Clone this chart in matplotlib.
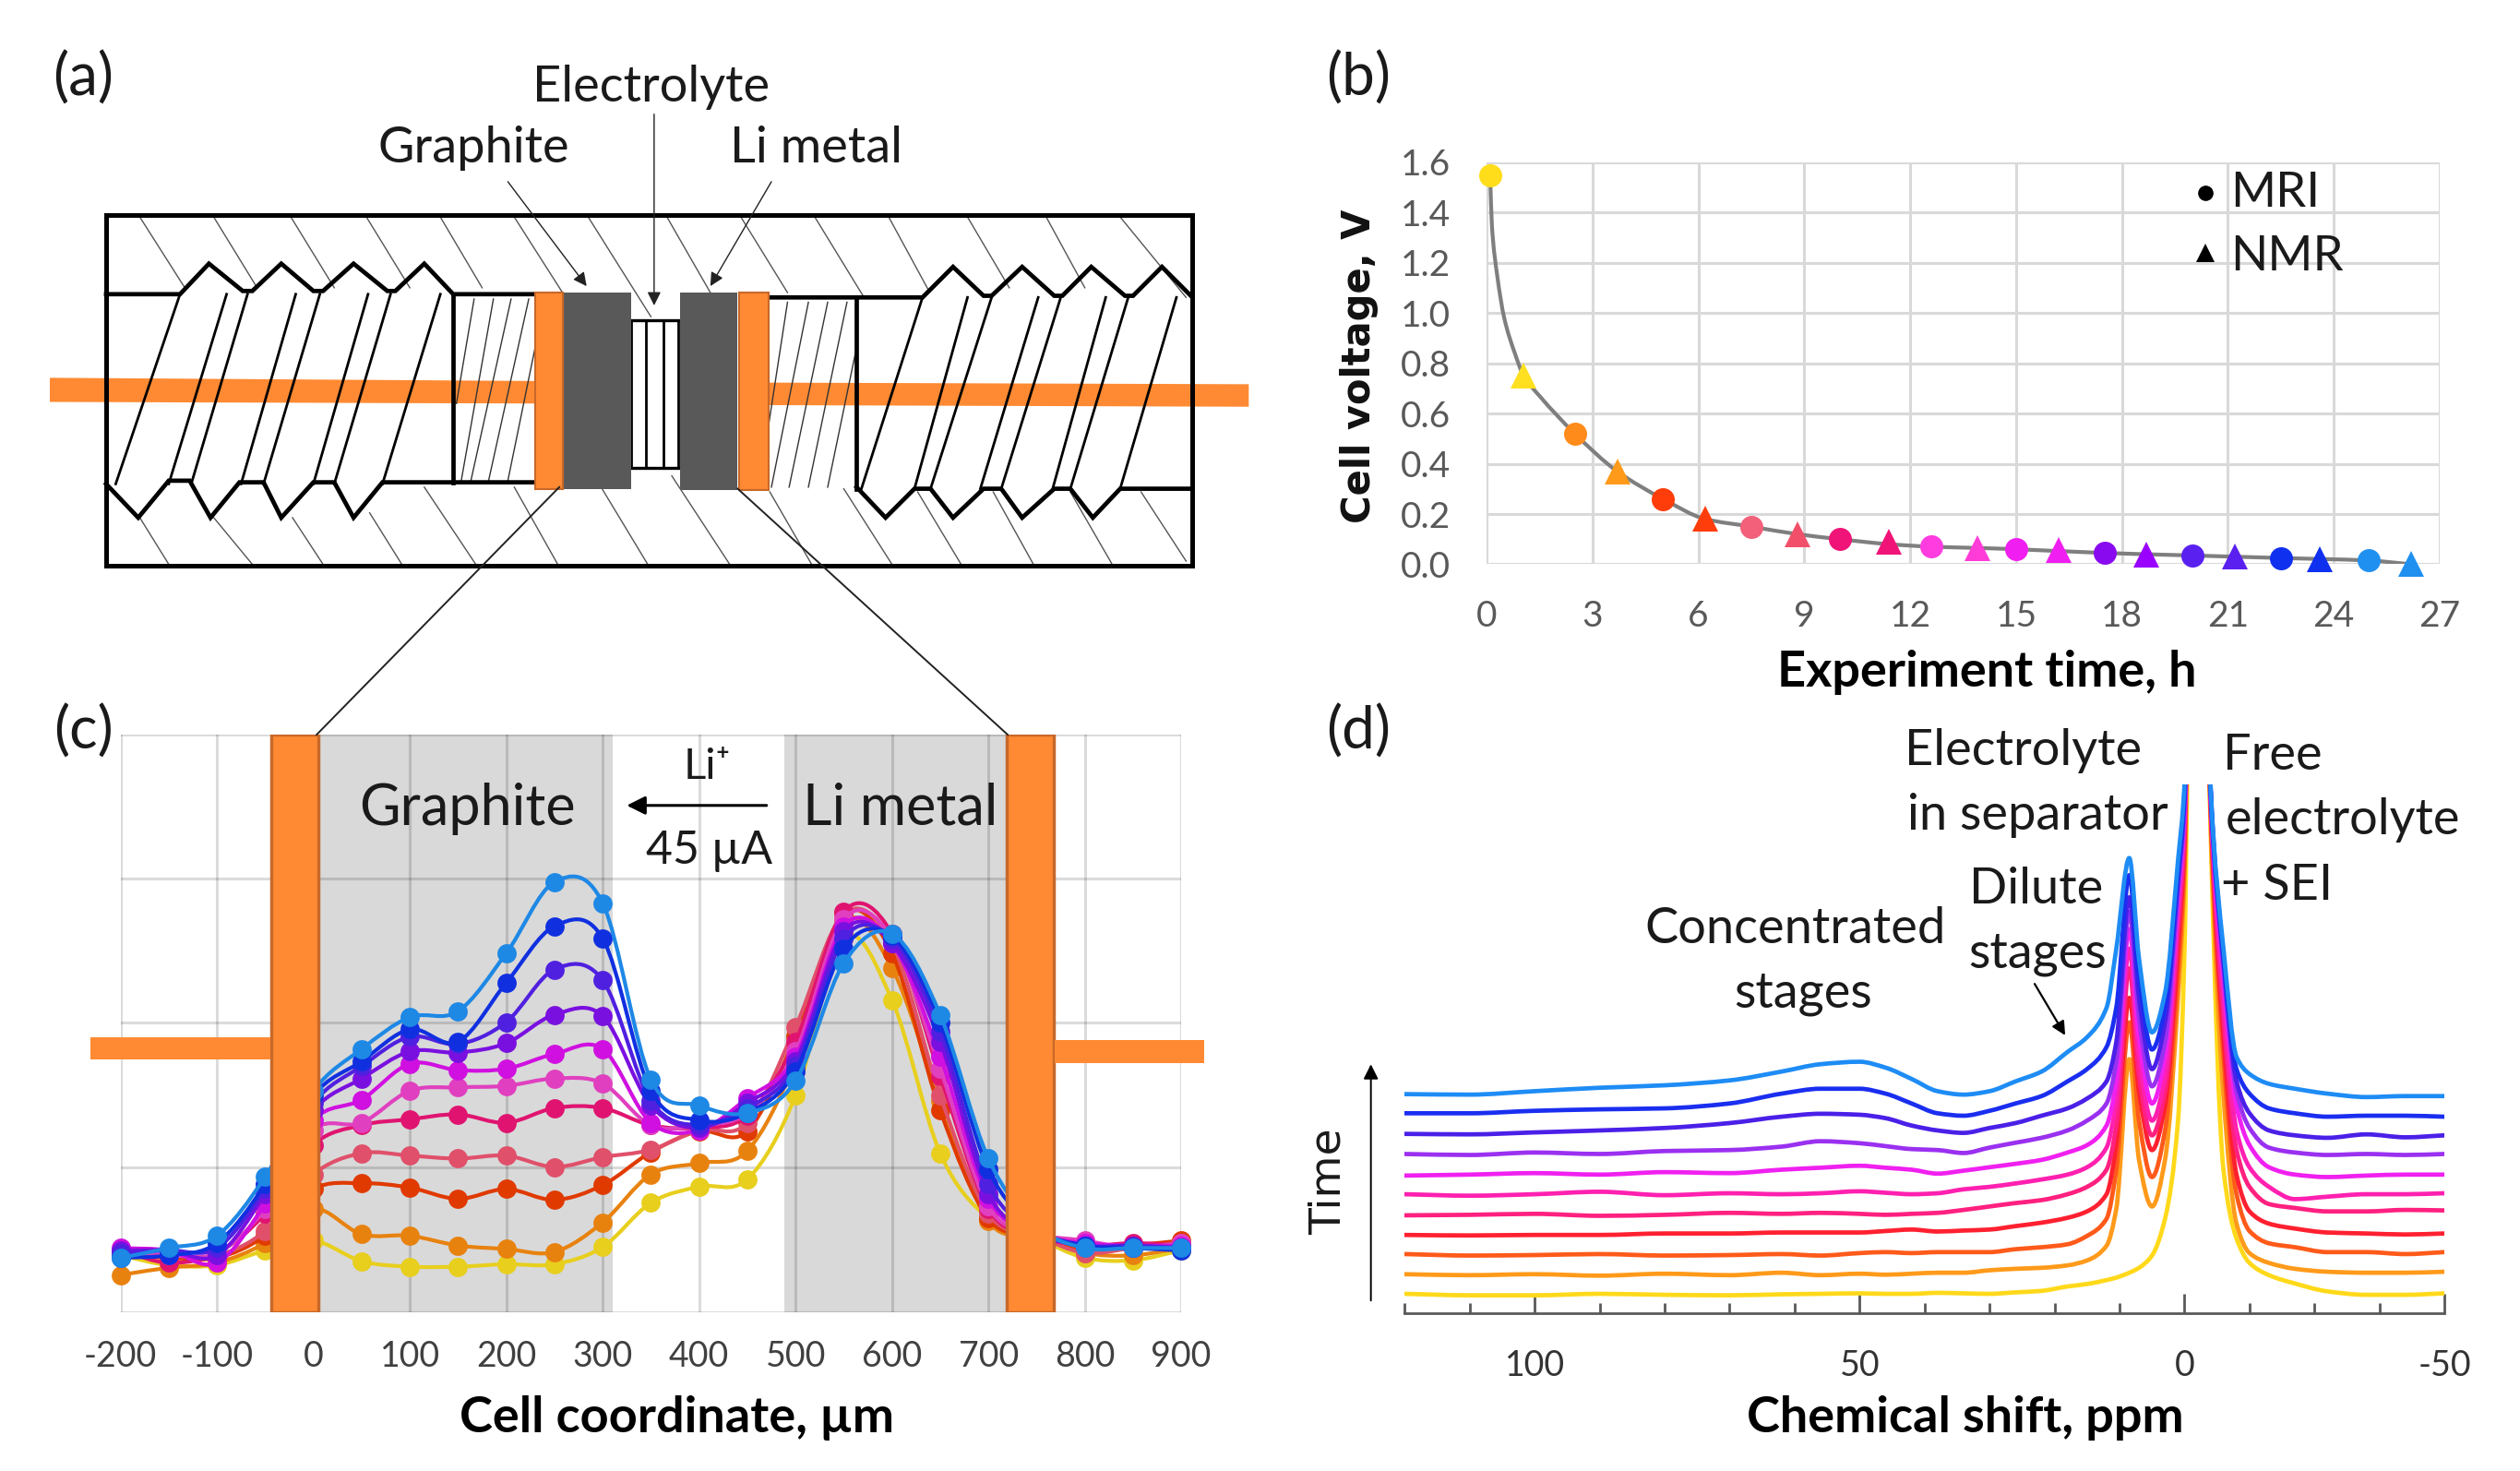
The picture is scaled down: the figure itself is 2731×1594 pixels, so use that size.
import numpy as np
import matplotlib
matplotlib.use("Agg")
import matplotlib.pyplot as plt
from matplotlib.path import Path
from matplotlib.patches import PathPatch, Rectangle, Polygon

plt.rcParams['font.family'] = ['Lato', 'DejaVu Sans']
plt.rcParams['axes.unicode_minus'] = False
W, H = 2731, 1594
SX, SY = 1568.0, 915.0
TXT = '#1a1a1a'
FS = 39

# ---------- panel (b) ----------
b_mri_t = [0.1, 2.5, 5.0, 7.5, 10.0, 12.6, 15.0, 17.5, 20.0, 22.5, 25.0]
b_mri_v = [1.55, 0.52, 0.26, 0.15, 0.10, 0.07, 0.06, 0.045, 0.035, 0.025, 0.015]
b_nmr_t = [1.05, 3.7, 6.2, 8.8, 11.4, 13.9, 16.2, 18.7, 21.2, 23.6, 26.2]
b_nmr_v = [0.75, 0.37, 0.18, 0.12, 0.09, 0.065, 0.055, 0.04, 0.03, 0.02, 0.0]
b_mri_c = ['#FFDD1A', '#FF8C1A', '#FF3D0A', '#F2607A', '#F01478', '#FF3CE0', '#F01EF0', '#8A0AF0', '#5A20F0', '#1030F0', '#2090F0']
b_nmr_c = ['#FFE020', '#FF9A1A', '#FF3D0A', '#F2506A', '#F01478', '#FF3CD8', '#F01EF0', '#9A00FF', '#5A20F0', '#1030F0', '#2090F0']
trace_t = [0.1, 0.15, 0.3, 0.5, 0.8, 1.05, 1.5, 2.5, 3.7, 5.0, 6.2, 7.5, 8.8, 10.0, 11.4, 12.6, 13.9, 15.0, 17.5, 20.0, 22.5, 25.0, 26.2]
trace_v = [1.55, 1.35, 1.15, 0.98, 0.84, 0.75, 0.67, 0.52, 0.37, 0.26, 0.18, 0.15, 0.12, 0.10, 0.08, 0.07, 0.065, 0.06, 0.045, 0.035, 0.025, 0.015, 0.0]
b_xticks = [0, 3, 6, 9, 12, 15, 18, 21, 24, 27]
b_yticks = [0.0, 0.2, 0.4, 0.6, 0.8, 1.0, 1.2, 1.4, 1.6]

# ---------- panel (c) ----------
c_x = [-200, -150, -100, -50, 0, 50, 100, 150, 200, 250, 300, 350, 400, 450, 500, 550, 600, 650, 700, 750, 800, 850, 900]
c_yellow = [1125, 1145, 1145, 1115, 1095, 1137, 1148, 1148, 1143, 1143, 1108, 1018, 985, 970, 800, 480, 605, 917, 1050, 1090, 1130, 1135, 1115]
c_orange = [1165, 1150, 1140, 1100, 1030, 1082, 1085, 1105, 1112, 1118, 1058, 960, 937, 912, 730, 445, 540, 810, 1055, 1085, 1120, 1125, 1110]
c_redorange = [1125, 1130, 1130, 1085, 990, 978, 987, 1010, 990, 1012, 982, 915, 872, 872, 680, 430, 510, 830, 1050, 1085, 1115, 1105, 1095]
c_salmon = [1120, 1125, 1125, 1075, 960, 917, 922, 928, 922, 945, 925, 910, 870, 855, 660, 430, 490, 800, 1040, 1085, 1120, 1110, 1100]
c_pinkred = [1115, 1140, 1120, 1040, 900, 860, 848, 838, 855, 825, 825, 860, 865, 840, 690, 425, 470, 760, 1030, 1085, 1105, 1100, 1105]
c_pink = [1120, 1125, 1120, 1030, 870, 855, 790, 783, 780, 765, 775, 860, 860, 835, 710, 440, 480, 745, 1025, 1080, 1095, 1110, 1100]
c_magenta = [1110, 1115, 1140, 1020, 850, 808, 735, 748, 745, 715, 705, 855, 870, 805, 720, 455, 490, 720, 1010, 1080, 1100, 1105, 1105]
c_purple = [1115, 1115, 1125, 1000, 830, 765, 710, 712, 693, 635, 638, 820, 865, 815, 730, 465, 490, 690, 1000, 1080, 1105, 1110, 1110]
c_indigo = [1120, 1115, 1110, 990, 815, 740, 680, 695, 650, 543, 565, 810, 860, 825, 740, 480, 480, 670, 980, 1075, 1105, 1105, 1110]
c_blue = [1130, 1125, 1100, 980, 800, 730, 665, 690, 570, 455, 480, 790, 850, 835, 750, 500, 475, 650, 950, 1070, 1105, 1110, 1115]
c_ltblue = [1130, 1110, 1085, 965, 790, 705, 640, 628, 510, 365, 408, 767, 820, 835, 770, 530, 470, 635, 928, 1065, 1110, 1110, 1110]
c_series = [c_yellow, c_orange, c_redorange, c_salmon, c_pinkred, c_pink, c_magenta, c_purple, c_indigo, c_blue, c_ltblue]
c_colors = ['#E8CF1E', '#E8820F', '#E03A00', '#E0506A', '#E01470', '#E040C0', '#D010E0', '#7A10E0', '#5020E0', '#1030E0', '#1E88E5']
c_xticks = list(range(-200, 1000, 100))
c_ygrid = [65, 358, 650, 945, 1240]

# ---------- panel (d) ----------
d_x = [120, 110, 100, 90, 80, 70, 62, 56, 50, 46, 42, 38, 34, 30, 26, 22, 18, 15, 12, 10.5, 8.5, 7, 5, 3, 1, 0, -2, -4, -6, -8, -10, -13, -17, -22, -28, -34, -40]
d_s1 = [1203, 1206, 1206, 1203, 1205, 1206, 1204, 1203, 1202, 1203, 1203, 1201, 1202, 1203, 1200, 1197, 1188, 1183, 1175, 1170, 1160, 1150, 1125, 1050, 850, 500, -1500, 250, 950, 1090, 1140, 1165, 1182, 1198, 1205, 1205, 1202]
d_s2 = [1163, 1165, 1163, 1166, 1162, 1165, 1160, 1165, 1162, 1164, 1162, 1160, 1160, 1155, 1152, 1150, 1145, 1135, 1105, 1030, 725, 930, 1025, 930, 600, 350, -1500, 230, 800, 1060, 1120, 1140, 1152, 1158, 1160, 1160, 1158]
d_s3 = [1122, 1125, 1124, 1122, 1125, 1124, 1122, 1125, 1120, 1118, 1120, 1118, 1118, 1118, 1112, 1108, 1102, 1085, 1050, 950, 650, 850, 965, 870, 550, 320, -1500, 210, 720, 1000, 1075, 1100, 1108, 1118, 1118, 1122, 1118]
d_s4 = [1083, 1084, 1083, 1083, 1080, 1080, 1078, 1078, 1078, 1075, 1072, 1076, 1074, 1072, 1065, 1058, 1048, 1035, 1000, 900, 600, 790, 910, 820, 500, 280, -1500, 200, 680, 960, 1035, 1060, 1070, 1078, 1080, 1082, 1080]
d_s5 = [1043, 1042, 1040, 1044, 1042, 1038, 1040, 1038, 1040, 1042, 1040, 1038, 1032, 1025, 1018, 1012, 1000, 985, 950, 860, 540, 760, 880, 790, 460, 260, -1500, 190, 640, 910, 985, 1020, 1028, 1035, 1035, 1032, 1033]
d_s6 = [1000, 1003, 1000, 995, 1002, 998, 1000, 998, 994, 997, 1000, 998, 990, 985, 978, 970, 960, 945, 905, 810, 500, 720, 850, 760, 430, 240, -1500, 185, 600, 870, 945, 985, 1010, 1005, 1000, 1000, 998]
d_s7 = [962, 960, 957, 960, 955, 957, 950, 946, 942, 946, 950, 958, 952, 945, 938, 930, 915, 900, 860, 770, 460, 680, 815, 720, 400, 225, -1500, 180, 560, 820, 900, 945, 960, 965, 962, 960, 960]
d_s8 = [918, 920, 915, 918, 912, 910, 903, 892, 896, 902, 908, 910, 916, 905, 895, 885, 870, 850, 815, 730, 425, 640, 780, 690, 380, 210, -1500, 175, 540, 790, 865, 905, 915, 920, 918, 920, 918]
d_s9 = [877, 878, 874, 870, 865, 855, 842, 836, 838, 845, 860, 870, 875, 865, 855, 840, 825, 805, 770, 690, 395, 600, 745, 650, 360, 195, -1500, 172, 525, 770, 835, 870, 880, 885, 878, 884, 880]
d_s10 = [835, 835, 830, 827, 825, 815, 795, 785, 785, 795, 815, 835, 840, 830, 815, 800, 770, 745, 700, 620, 350, 560, 705, 620, 340, 180, -1500, 168, 515, 745, 795, 825, 835, 842, 840, 840, 842]
d_s11 = [796, 797, 790, 783, 778, 768, 750, 735, 730, 742, 765, 790, 797, 790, 770, 750, 710, 680, 620, 500, 315, 520, 670, 590, 320, 165, -1500, 165, 500, 720, 755, 775, 785, 795, 802, 800, 800]
d_series = [d_s1, d_s2, d_s3, d_s4, d_s5, d_s6, d_s7, d_s8, d_s9, d_s10, d_s11]
d_colors = ['#FFD91A', '#FF9A1A', '#FF5A1A', '#FF2030', '#FF2080', '#FF20B0', '#F020F0', '#9A30F0', '#4A20E8', '#1A2EF0', '#1E8CF5']
d_major = [100, 50, 0, -40]
d_major_labels = ['100', '50', '0', '-50']
d_minor = list(range(120, -50, -10))


def rect(l, t, r, b):
    return [l / SX, 1 - b / SY, (r - l) / SX, (b - t) / SY]


def bezier(x, y, m):
    verts = [(x[0], y[0])]
    codes = [Path.MOVETO]
    for i in range(len(x) - 1):
        dx = x[i + 1] - x[i]
        verts += [(x[i] + dx / 3, y[i] + m[i] * dx / 3), (x[i + 1] - dx / 3, y[i + 1] - m[i + 1] * dx / 3), (x[i + 1], y[i + 1])]
        codes += [Path.CURVE4] * 3
    return Path(verts, codes)


def spline_path(x, y):
    x = np.asarray(x, float)
    y = np.asarray(y, float)
    m = np.gradient(y, x)
    return bezier(x, y, m)


def monotone_path(x, y):
    x = np.asarray(x, float)
    y = np.asarray(y, float)
    h = np.diff(x)
    d = np.diff(y) / h
    m = np.zeros_like(y)
    m[0], m[-1] = d[0], d[-1]
    for i in range(1, len(x) - 1):
        if d[i - 1] * d[i] > 0:
            w1 = 2 * h[i] + h[i - 1]
            w2 = h[i] + 2 * h[i - 1]
            m[i] = (w1 + w2) / (w1 / d[i - 1] + w2 / d[i])
    return bezier(x, y, m)


def curve(ax, path, color, lw, z):
    ax.add_patch(PathPatch(path, fill=False, edgecolor=color, lw=lw, zorder=z, capstyle='round'))


fig = plt.figure(figsize=(W / 100, H / 100), dpi=100, facecolor='white')

# ---------- background sketch (a), display units ----------
bg = fig.add_axes([0, 0, 1, 1], zorder=0)
bg.set_xlim(0, SX)
bg.set_ylim(SY, 0)
bg.axis('off')
ORANGE = '#FF8A33'
EDGE = '#C8682A'

rod_left = [(31, 235), (333, 237), (333, 251), (31, 250)]
rod_right = [(478, 238), (777, 239), (777, 253), (478, 252)]
for pts in (rod_left, rod_right):
    bg.add_patch(Polygon(pts, closed=True, fc=ORANGE, ec='none', zorder=1))

# thin hatching of the cell body
hatch_top = [(87, 134, 115, 178), (133, 134, 160, 178), (181, 134, 208, 178), (228, 134, 255, 178),
             (274, 134, 300, 178), (320, 134, 350, 181), (366, 134, 405, 196), (415, 134, 442, 181),
             (461, 134, 490, 181), (507, 134, 537, 183), (553, 134, 578, 180), (602, 134, 628, 178),
             (651, 134, 675, 178), (697, 134, 738, 184)]
hatch_bot = [(87, 321, 105, 350), (133, 321, 157, 350), (182, 321, 201, 350), (230, 318, 250, 350),
             (264, 302, 296, 350), (320, 302, 347, 350), (374, 302, 403, 350), (418, 295, 454, 350),
             (479, 305, 505, 350), (525, 303, 555, 350), (571, 305, 598, 350), (618, 305, 643, 350),
             (666, 305, 692, 350), (710, 305, 738, 348)]
for x0, y0, x1, y1 in hatch_top + hatch_bot:
    bg.plot([x0, x1], [y0 + 1, y1 + 1], color='#555555', lw=1.0, zorder=2)

# thread slants
left_tops = [112, 141, 154, 184, 199, 229, 243, 274]
left_bots = [72, 105, 119, 150, 164, 195, 208, 238]
right_tops = [574, 602, 617, 646, 660, 688, 702, 732]
right_bots = [536, 569, 579, 610, 623, 655, 666, 697]
for tops, bots, yt, yb in ((left_tops, left_bots, 183, 301), (right_tops, right_bots, 185, 304)):
    for a, c in zip(tops, bots):
        bg.plot([a, c], [yt, yb], color='black', lw=2.0, zorder=3)

# inner hatch
inner = [(295, 186, 284, 251), (307, 186, 287, 299), (318, 186, 293, 299), (329, 186, 304, 299), (333, 216, 316, 299),
         (490, 188, 478, 266), (503, 188, 480, 303), (515, 188, 491, 303), (527, 188, 503, 303), (533, 216, 515, 303)]
for x0, y0, x1, y1 in inner:
    bg.plot([x0, x1], [y0, y1], color='#333333', lw=1.0, zorder=2)

top_left = [(66, 183), (112, 183), (130, 164), (151, 181), (157, 181), (175, 164), (195, 181), (201, 181), (220, 164),
            (241, 181), (246, 181), (264, 164), (282, 183), (333, 183)]
bot_left = [(66, 301), (86, 322), (105, 299), (118, 299), (131, 322), (149, 300), (164, 300), (175, 322), (195, 300),
            (208, 300), (220, 322), (238, 300), (333, 300)]
top_right = [(478, 185), (574, 185), (593, 166), (612, 184), (617, 184), (636, 166), (656, 184), (661, 184), (679, 166),
             (700, 184), (705, 184), (723, 166), (741, 184)]
bot_right = [(533, 303), (551, 322), (569, 304), (579, 304), (593, 322), (612, 304), (623, 304), (636, 322), (656, 304),
             (666, 304), (680, 322), (697, 304), (741, 304)]
for pts in (top_left, bot_left, top_right, bot_right):
    xs, ys = zip(*pts)
    bg.plot(xs, ys, color='black', lw=3.4, zorder=4, solid_joinstyle='miter')
bg.plot([282, 282], [183, 300], color='black', lw=3.4, zorder=4)
bg.plot([533, 533], [185, 304], color='black', lw=3.4, zorder=4)
bg.add_patch(Rectangle((66, 134), 676, 218, fc='none', ec='black', lw=3.6, zorder=4))

# separator + electrodes
bg.plot([393, 422], [199, 199], color='black', lw=2.4, zorder=4)
bg.plot([393, 422], [291, 291], color='black', lw=2.4, zorder=4)
for xv in (393, 402, 413, 422):
    bg.plot([xv, xv], [199, 291], color='black', lw=2.0, zorder=4)
bg.add_patch(Rectangle((350, 182), 43, 122, fc='#595959', ec='none', zorder=5))
bg.add_patch(Rectangle((423, 182), 36, 123, fc='#595959', ec='none', zorder=5))
bg.add_patch(Rectangle((333, 182), 17, 122, fc=ORANGE, ec=EDGE, lw=1.5, zorder=5))
bg.add_patch(Rectangle((460, 182), 18, 123, fc=ORANGE, ec=EDGE, lw=1.5, zorder=5))

# ---------- panel (b) ----------
ab = fig.add_axes(rect(925, 101, 1518, 351), zorder=5)
ab.patch.set_alpha(0)
ab.set_xlim(0, 27)
ab.set_ylim(0, 1.6)
ab.set_xticks(b_xticks)
ab.set_yticks(b_yticks)
ab.set_yticklabels([f'{v:.1f}' for v in b_yticks])
ab.grid(True, color='#D9D9D9', lw=2.2, zorder=0)
ab.set_axisbelow(True)
for s in ab.spines.values():
    s.set_visible(False)
ab.tick_params(axis='x', length=0, labelsize=28, colors='#595959', pad=28)
ab.tick_params(axis='y', length=0, labelsize=28, colors='#595959', pad=28)
curve(ab, monotone_path(trace_t, trace_v), '#7F7F7F', 3.0, 3)
for t, v, c in zip(b_mri_t, b_mri_v, b_mri_c):
    ab.plot([t], [v], 'o', color=c, ms=18, mew=0, zorder=4, clip_on=False)
for t, v, c in zip(b_nmr_t, b_nmr_v, b_nmr_c):
    ab.plot([t], [v], '^', color=c, ms=20, mew=0, zorder=4, clip_on=False)

# ---------- panel (c) ----------
ac = fig.add_axes(rect(75, 457, 735, 816), zorder=5)
ac.set_xlim(-200, 900)
ac.set_ylim(1240, 65)
ac.axvspan(5, 310, color='#D9D9D9', lw=0, zorder=1)
ac.axvspan(488, 719, color='#D9D9D9', lw=0, zorder=1)
ac.set_xticks(c_xticks)
ac.set_yticks(c_ygrid)
ac.set_yticklabels([])
ac.grid(True, color='black', alpha=0.14, lw=2.2, zorder=2)
ac.set_axisbelow(False)
for gl in ac.get_xgridlines() + ac.get_ygridlines():
    gl.set_zorder(2)
ac.add_patch(Rectangle((310, 65), 178, 290, fc='white', ec='none', zorder=2.5))
for s in ac.spines.values():
    s.set_visible(False)
ac.tick_params(length=0, labelsize=27, colors='#404040', pad=22)
for ys, c in zip(c_series, c_colors):
    curve(ac, spline_path(c_x, ys), c, 3.0, 3)
    ac.plot(c_x, ys, 'o', color=c, ms=15, mew=0, zorder=3, clip_on=False)
ac.add_patch(Rectangle((-44, 65), 49, 1175, fc=ORANGE, ec=EDGE, lw=2.5, zorder=6))
ac.add_patch(Rectangle((719, 65), 49, 1175, fc=ORANGE, ec=EDGE, lw=2.5, zorder=6))

# ---------- panel (d) ----------
ad = fig.add_axes(rect(874, 488, 1521, 817), zorder=5)
ad.patch.set_alpha(0)
ad.set_xlim(120, -40)
ad.set_ylim(1243, 165)
for name in ('top', 'left', 'right'):
    ad.spines[name].set_visible(False)
ad.spines['bottom'].set_color('#595959')
ad.spines['bottom'].set_linewidth(2)
ad.set_yticks([])
ad.set_xticks(d_major)
ad.set_xticklabels(d_major_labels)
ad.set_xticks(d_minor, minor=True)
ad.tick_params(axis='x', which='major', direction='in', length=15, width=2, color='#595959', labelsize=27, labelcolor='#333333', pad=28)
ad.tick_params(axis='x', which='minor', direction='in', length=8, width=2, color='#595959')
for ys, c in zip(d_series, d_colors):
    curve(ad, monotone_path(d_x, ys), c, 3.4, 3)

# ---------- overlay texts ----------
ov = fig.add_axes([0, 0, 1, 1], zorder=10)
ov.patch.set_alpha(0)
ov.set_xlim(0, SX)
ov.set_ylim(SY, 0)
ov.axis('off')


def T(x, y, s, fs=FS, **kw):
    kw.setdefault('color', TXT)
    ov.text(x, y + 2, s, fontsize=fs, ha=kw.pop('ha', 'center'), va=kw.pop('va', 'center'), **kw)


def arrow(x0, y0, x1, y1, lw=1.2, ms=22, color='#222222'):
    ov.annotate('', xy=(x1, y1), xytext=(x0, y0),
                arrowprops=dict(arrowstyle='-|>', lw=lw, color=color, mutation_scale=ms, shrinkA=0, shrinkB=0))


for x, y, s in ((52, 47, '(a)'), (845, 47, '(b)'), (52, 453, '(c)'), (845, 453, '(d)')):
    T(x, y, s, fs=46)

T(405, 52, 'Electrolyte', fs=FS)
T(295, 90, 'Graphite', fs=FS)
T(508, 90, 'Li metal', fs=FS)
arrow(407, 71, 407, 190, lw=1.0)
arrow(316, 113, 365, 178, lw=1.0)
arrow(480, 113, 442, 178, lw=1.0)
ov.plot([348, 197], [303, 457], color='#222222', lw=1.4)
ov.plot([459, 627], [304, 457], color='#222222', lw=1.4)

T(291, 501, 'Graphite', fs=44)
T(560, 501, 'Li metal', fs=44)
T(440, 475, 'Li⁺', fs=34)
T(441, 527, '45 µA', fs=36)
arrow(477, 501, 390, 501, lw=2.2, ms=30, color='black')
T(421, 880, 'Cell coordinate, µm', fs=39, fontweight='bold', color='black')

T(1236, 416, 'Experiment time, h', fs=39, fontweight='bold', color='black')
T(846, 226, 'Cell voltage, V', fs=30, fontweight='bold', rotation=90, family='DejaVu Sans', color='#111111')
ov.plot([1372], [120], 'o', color='black', ms=12, mew=0)
ov.plot([1372], [157], '^', color='black', ms=15, mew=0)
T(1388, 118, 'MRI', fs=38, ha='left')
T(1388, 158, 'NMR', fs=38, ha='left')

T(1259, 465, 'Electrolyte', fs=FS)
T(1268, 505, 'in separator', fs=FS)
T(1414, 468, 'Free', fs=FS)
T(1458, 508, 'electrolyte', fs=FS)
T(1417, 549, '+ SEI', fs=FS)
T(1267, 551, 'Dilute', fs=FS)
T(1268, 591, 'stages', fs=FS)
T(1117, 576, 'Concentrated', fs=FS)
T(1122, 616, 'stages', fs=FS)
arrow(1266, 612, 1285, 644, lw=1.6, ms=22, color='black')
arrow(853, 809, 853, 662, lw=1.4, ms=24, color='black')
T(827, 733, 'Time', fs=34, rotation=90, family='DejaVu Sans')
T(1223, 880, 'Chemical shift, ppm', fs=39, fontweight='bold', color='black')

# orange stubs beside panel (c)
ov.add_patch(Rectangle((56, 645), 112, 14, fc=ORANGE, ec='none', zorder=1))
ov.add_patch(Rectangle((656, 647), 93, 14, fc=ORANGE, ec='none', zorder=1))

fig.savefig('out.png', dpi=100)
